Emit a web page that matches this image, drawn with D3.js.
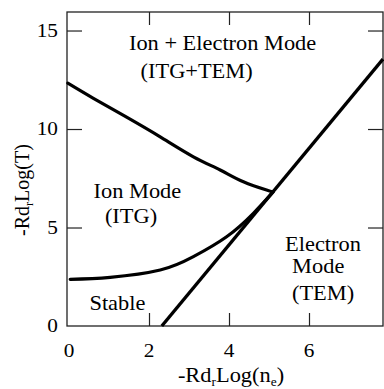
<!DOCTYPE html>
<html><head><meta charset="utf-8">
<script src="https://cdn.jsdelivr.net/npm/d3@7"></script>
</head><body style="margin:0">
<script>
const xTicks = [0, 2, 4, 6];
const yTicks = [0, 5, 10, 15];
const upperX = [-0.03, 0.61, 1.44, 2.28, 3.11, 3.78, 4.36, 4.94, 5.07];
const upperY = [12.33, 11.56, 10.6, 9.6, 8.59, 7.92, 7.32, 6.9, 6.82];
const lowerX = [0.03, 1.03, 2.28, 3.11, 3.94, 4.61, 5.11];
const lowerY = [2.37, 2.47, 2.84, 3.52, 4.53, 5.72, 6.82];
const lineX = [2.32, 7.85];
const lineY = [0, 13.55];
const labels = [
  {t: "Ion + Electron Mode", x: 3.84, y: 14.0},
  {t: "(ITG+TEM)", x: 3.19, y: 12.6},
  {t: "Ion Mode", x: 1.71, y: 6.5},
  {t: "(ITG)", x: 1.55, y: 5.23},
  {t: "Stable", x: 1.21, y: 0.81},
  {t: "Electron", x: 6.35, y: 3.8},
  {t: "Mode", x: 6.23, y: 2.69},
  {t: "(TEM)", x: 6.35, y: 1.32}
];

const W = 384, H = 389;
const L = 67, R = 383, T = 12, B = 326;
const SX = 1.12;
const svg = d3.select("body").append("svg").attr("width", W).attr("height", H);
const x = d3.scaleLinear().domain([-0.05, 7.85]).range([L, R]);
const y = d3.scaleLinear().domain([0, 15.94]).range([B, T]);

const fs = 20, fsT = 19, fsA = 20;
svg.append("g").attr("transform", `translate(0,${B})`)
  .call(d3.axisTop(x).tickValues(xTicks.filter(d => d > 0)).tickSize(13).tickFormat(""))
  .call(g => g.select(".domain").remove());
svg.append("g").attr("transform", `translate(0,${T})`)
  .call(d3.axisBottom(x).tickValues(xTicks.filter(d => d > 0)).tickSize(13).tickFormat(""))
  .call(g => g.select(".domain").remove());
svg.append("g").attr("transform", `translate(${L},0)`)
  .call(d3.axisRight(y).tickValues(yTicks.filter(d => d > 0)).tickSize(15).tickFormat(""))
  .call(g => g.select(".domain").remove());
svg.append("g").attr("transform", `translate(${R},0)`)
  .call(d3.axisLeft(y).tickValues(yTicks.filter(d => d > 0)).tickSize(15).tickFormat(""))
  .call(g => g.select(".domain").remove());
svg.selectAll(".tick line").attr("stroke", "#222").attr("stroke-width", 1.2);

svg.append("rect").attr("x", L).attr("y", T).attr("width", R - L).attr("height", B - T)
  .attr("fill", "none").attr("stroke", "#222").attr("stroke-width", 1.3);

const line = d3.line().x(d => x(d[0])).y(d => y(d[1])).curve(d3.curveNatural);
const draw = (xs, ys) => svg.append("path").attr("d", line(xs.map((v, i) => [v, ys[i]])))
  .attr("fill", "none").attr("stroke", "#000").attr("stroke-width", 3.2).attr("stroke-linecap", "round");
draw(upperX, upperY);
draw(lowerX, lowerY);
svg.append("path").attr("d", d3.line().x(d => x(d[0])).y(d => y(d[1]))(lineX.map((v, i) => [v, lineY[i]])))
  .attr("fill", "none").attr("stroke", "#000").attr("stroke-width", 3.4);

svg.selectAll("text.xl").data(xTicks).join("text")
  .style("font-family", d => `"Liberation Serif"`)
  .attr("transform", d => `translate(${x(d)},357) scale(${SX},1)`).attr("text-anchor", "middle")
  .attr("font-size", fsT).text(d => d);
svg.selectAll("text.yl").data(yTicks).join("text")
  .style("font-family", d => `"Liberation Serif"`)
  .attr("transform", d => `translate(58,${y(d) + 6}) scale(${SX},1)`).attr("text-anchor", "end")
  .attr("font-size", fsT).text(d => d);

const xt = svg.append("text").style("font-family", `"Liberation Serif"`)
  .attr("transform", `translate(231,382) scale(${SX},1)`).attr("text-anchor", "middle").attr("font-size", fsA);
xt.append("tspan").text("-Rd");
xt.append("tspan").attr("font-size", 12).attr("dy", 4).text("r");
xt.append("tspan").attr("dy", -4).text("Log(n");
xt.append("tspan").attr("font-size", 12).attr("dy", 4).text("e");
xt.append("tspan").attr("dy", -4).text(")");

const yt = svg.append("text").style("font-family", `"Liberation Serif"`)
  .attr("transform", "translate(29,190) rotate(-90)").attr("text-anchor", "middle").attr("font-size", fsA);
yt.append("tspan").text("-Rd");
yt.append("tspan").attr("font-size", 12).attr("dy", 4).text("r");
yt.append("tspan").attr("dy", -4).text("Log(T)");

svg.selectAll("text.rl").data(labels).join("text")
  .style("font-family", d => `"Liberation Serif"`)
  .attr("transform", d => `translate(${x(d.x)},${y(d.y)}) scale(${SX},1)`).attr("text-anchor", "middle")
  .attr("font-size", fs).text(d => d.t);
</script>
</body></html>
